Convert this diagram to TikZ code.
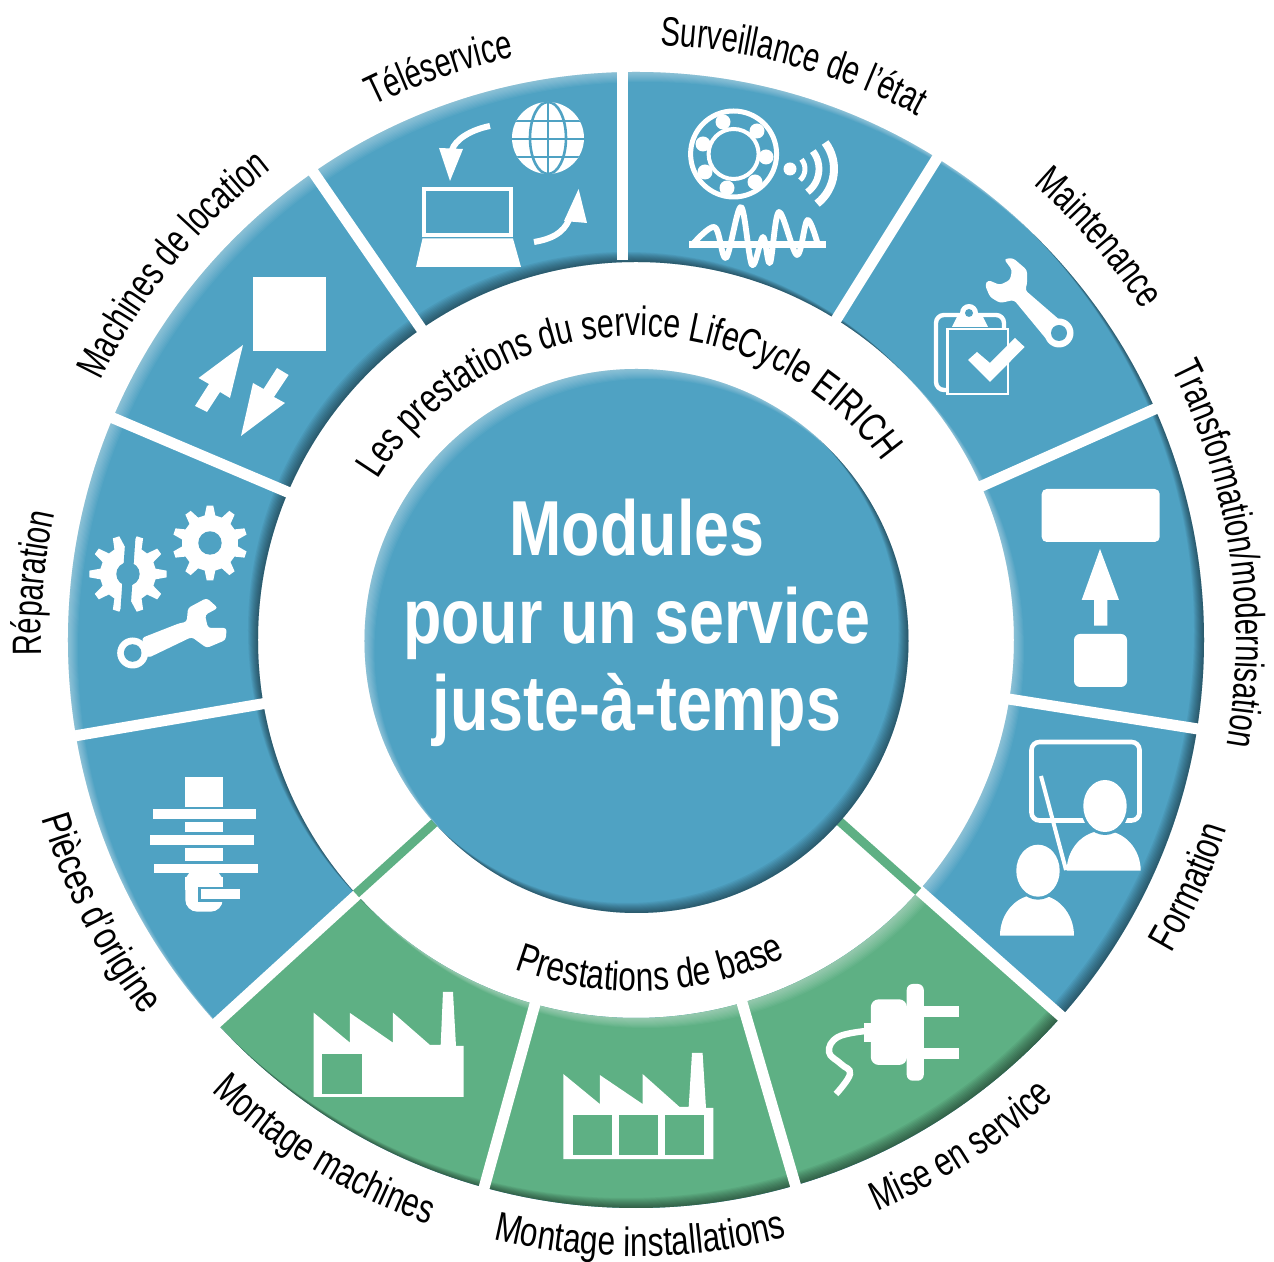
\documentclass[tikz,border=0pt]{standalone}
\usepackage{fontspec}
\usetikzlibrary{decorations.text}
\setmainfont{Liberation Sans}
\newfontfamily\lblfamA[FakeStretch=0.71]{Liberation Sans}
\newfontfamily\lblfamB[FakeStretch=0.74]{Liberation Sans}
\newfontfamily\lblfamC[FakeStretch=0.77]{Liberation Sans}
\newfontfamily\ctrfam[FakeStretch=0.805]{Liberation Sans Bold}
\newcommand\lblA{\lblfamA\fontsize{20.5}{24}\selectfont}
\newcommand\lblB{\lblfamB\fontsize{20.5}{24}\selectfont}
\newcommand\lblC{\lblfamC\fontsize{20.5}{24}\selectfont}
\definecolor{ringblue}{HTML}{4FA2C3}
\definecolor{ringgreen}{HTML}{5EB084}
\tikzset{
  arclabel/.style 2 args={decorate,decoration={text along path,text align=center,text={|#1|#2}}},
  ico/.style={fill=white,draw=none},
  icoline/.style={draw=white,fill=none},
}
% arc labels: font, centre angle, radius, text
\newcommand\cwlab[4]{\path[arclabel={#1}{#3x}] ({#2+70}:#3) arc ({#2+70}:{#2-70}:#3);}
\renewcommand\cwlab[4]{\path[arclabel={#1}{#4}] ({#2+70}:#3) arc ({#2+70}:{#2-70}:#3);}
\newcommand\ccwlab[4]{\path[arclabel={#1}{#4}] ({#2-70}:#3) arc ({#2-70}:{#2+70}:#3);}
\newcommand\gearshape[5]{% cx cy ro ri phase
  \begin{scope}[shift={(#1,#2)}]
  \fill[white] ({#5-11}:#4) \foreach \a in {0,36,...,324} { -- ({\a+#5-11}:#4) -- ({\a+#5-5}:#3) -- ({\a+#5+5}:#3) -- ({\a+#5+11}:#4) } -- cycle;
  \end{scope}}
\begin{document}
\begin{tikzpicture}[x=0.5pt,y=0.5pt]
\useasboundingbox (-636,640) rectangle (638,-622);
% ring
\fill[ringblue] (0:568) arc (0:360:568) -- cycle (0:378) arc (360:0:378) -- cycle;
\fill[ringgreen] (-41.5:568) arc (-41.5:-137.6:568) -- (-137.6:378) arc (-137.6:-41.5:378) -- cycle;
\begin{scope}
  \clip (0:568) arc (0:360:568) -- cycle (0:378) arc (360:0:378) -- cycle;
  \foreach \d in {1,...,10}{
    \fill[white,fill opacity=.045,even odd rule] (-700,-700) rectangle (700,700) (\d,-\d) circle (568) (\d,-\d) circle (378);
    \fill[black,fill opacity=.05,even odd rule] (-700,-700) rectangle (700,700) (-\d,\d) circle (568) (-\d,\d) circle (378);
  }
\end{scope}
% dividers
\foreach \t in {58,24,-9,-41.5,-73.7,-105.5,-137.6,-170.3,157,124.6}
  \draw[white,line width=5.5pt] (\t:370) -- (\t:580);
\draw[white,line width=5.5pt] (-14,380) -- (-14,580);
% green stripes
\draw[ringgreen,line width=4.5pt] (-41.7:378) -- (-41.7:268);
\draw[ringgreen,line width=4.5pt] (222.2:378) -- (222.2:268);
% centre disc
\begin{scope}[shift={(0.5,-1)}]
  \fill[ringblue] (0,0) circle (272);
  \clip (0,0) circle (272);
  \foreach \d in {1,...,10}{
    \fill[white,fill opacity=.045,even odd rule] (-300,-300) rectangle (300,300) (\d,-\d) circle (272);
    \fill[black,fill opacity=.05,even odd rule] (-300,-300) rectangle (300,300) (-\d,\d) circle (272);
  }
\end{scope}
\node[text=white,align=center,inner sep=0pt,font=\ctrfam\fontsize{39}{43.8}\selectfont] (title) at (1,17) {Modules\\pour un service\\juste-à-temps};
% labels
\cwlab{\lblA}{74.7}{595}{Surveillance de l’état}
\cwlab{\lblA}{109}{595}{Téléservice}
\cwlab{\lblA}{41}{604}{Maintenance}
\cwlab{\lblA}{8.4}{600}{Transformation/modernisation}
\cwlab{\lblA}{141}{595}{Machines de location}
\cwlab{\lblA}{174.6}{595}{Réparation}
\ccwlab{\lblB}{-24}{620}{Formation}
\ccwlab{\lblB}{-57.3}{620}{Mise en service}
\ccwlab{\lblC}{-89.6}{616}{Montage installations}
\ccwlab{\lblB}{238.6}{620}{Montage machines}
\ccwlab{\lblC}{207}{620}{Pièces d’origine}
\cwlab{\lblB}{92}{304}{Les prestations du service LifeCycle EIRICH}
\ccwlab{\lblC}{-87.5}{351}{Prestations de base}
% icons in image pixel coordinates
\begin{scope}[shift={(-636,640)},yscale=-1]
% Teleservice
\fill[ico] (548,138) circle (36);
\begin{scope}
  \clip (548,138) circle (36);
  \draw[ringblue,line width=1.3pt] (548,100) -- (548,176) (510,121) -- (586,121) (510,139) -- (586,139) (510,157) -- (586,157);
  \draw[ringblue,line width=1.3pt] (548,138) ellipse (18 and 36);
\end{scope}
\draw[icoline,line width=2.2pt] (424,189) rectangle (511,235);
\fill[ico] (422.5,238.5) -- (513,238.5) -- (521,267) -- (416,267) -- cycle;
\draw[icoline,line width=3pt] (490,126) .. controls (470,130) and (455,140) .. (452,150);
\fill[ico] (439,148) -- (463,149) -- (450,181) -- cycle;
\draw[icoline,line width=3pt] (534,242) .. controls (552,239) and (563,233) .. (569,220);
\fill[ico] (578.6,189) -- (564,221) -- (587,223) -- cycle;
% Machines de location
\fill[ico] (253,277) rectangle (326,351);
\fill[ico] (243,345) -- (198.6,378) -- (209,384) -- (195,406) -- (207,412) -- (220,392) -- (230,398) -- cycle;
\fill[ico] (241,436) -- (285,403) -- (274,397) -- (288.6,375) -- (277,368) -- (263.6,389) -- (253,383) -- cycle;
% Surveillance
\draw[icoline,line width=2.5pt] (733.6,154) circle (43);
\draw[icoline,line width=2pt] (733.6,154) circle (25);
\foreach \x/\y in {723/122,757/131,766/157,755/182,727/188,705/172,703/144}
  \fill[ico] (\x,\y) circle (7.5);
\fill[ico] (790,169) circle (6.5);
\draw[icoline,line width=2.5pt] (790,169) ++(-40:15) arc (-40:48:15);
\draw[icoline,line width=3.4pt] (790,169) ++(-38:29) arc (-38:53:29);
\draw[icoline,line width=4pt] (790,169) ++(-37:44) arc (-37:52:44);
\draw[icoline,line width=2.9pt,line join=round] plot[smooth,tension=.55] coordinates {(692,245) (714.6,227) (726,258) (741,207) (752,265) (763,237) (770,263) (779,212) (797,255) (807.5,220) (818,245)};
\fill[ico] (689,241.5) rectangle (826,248.5);
% Maintenance
\fill[ico,rounded corners=1.5pt] (1004,259) -- (1013,258) -- (1027,270) -- (1027,285) -- (1025,290) -- (1062,322) -- (1047,340) -- (1014,300) -- (1000,303) -- (990,297) -- (985,285) -- (988,280) -- (1000,285) -- (1010,280) -- (1012,270) -- cycle;
\fill[ico] (1059,333) circle (14.5);
\fill[ringblue] (1059,333) circle (8);
\draw[icoline,line width=2.2pt,rounded corners=4pt] (1004,328) -- (1004,315) -- (936,315) -- (936,390) -- (947,390);
\fill[ico] (969,313) circle (9);
\fill[ringblue] (969,313) circle (4);
\fill[ico] (957,317) -- (983,317) -- (988,327) -- (952,327) -- cycle;
\draw[icoline,line width=1.4pt,fill=ringblue] (947.5,329) rectangle (1008,394);
\fill[ico] (968,360) -- (990,382) -- (1024.6,347) -- (1015,338) -- (990,363) -- (977,352) -- cycle;
% Transformation
\fill[ico,rounded corners=2.5pt] (1041.7,489) rectangle (1159.7,542);
\fill[ico] (1100,549) -- (1119,600) -- (1107.3,600) -- (1107.3,625.7) -- (1094,625.7) -- (1094,600) -- (1081.7,600) -- cycle;
\fill[ico,rounded corners=3pt] (1074,634) rectangle (1127,687);
% Formation
\draw[icoline,line width=2.3pt,rounded corners=4pt] (1031.5,742) rectangle (1139.5,820.5);
\draw[icoline,line width=2pt] (1041,776) -- (1066,870);
\fill[ico] (1066.7,870.7) arc (180:360:37 and 40) -- cycle;
\fill[ringblue] (1105,806) ellipse (24.5 and 29);
\fill[ico] (1105,806) ellipse (21.7 and 26);
\fill[ico] (1000,935.7) arc (180:360:37 and 41) -- cycle;
\fill[ringblue] (1038,870.7) ellipse (24.5 and 29);
\fill[ico] (1038,870.7) ellipse (21.7 and 26);
% Reparation
\gearshape{210}{543}{37.5}{28}{18}
\fill[ringblue] (210,543) circle (11.7);
\gearshape{128}{574}{38.7}{28}{0}
\fill[ringblue] (128,574) circle (11.7);
\draw[ringblue,line width=5pt] (131,530) -- (125,617);
\fill[ico] (132.7,653) circle (15.5);
\fill[ico,rounded corners=1.5pt] (141.7,638) -- (180,623) -- (186.7,622) -- (188,608) -- (206.7,598) -- (218,608) -- (205,615) -- (208,628) -- (226.7,628) -- (225.7,640) -- (206.7,648) -- (191.7,637) -- (148,658) -- cycle;
\fill[ringblue] (132.7,653) circle (8.8);
% Pieces
\fill[ico] (185.3,777) rectangle (222.7,806.7);
\fill[ico] (152.7,809) rectangle (256,818.7);
\fill[ico] (185.3,822) rectangle (222.7,832.3);
\fill[ico] (150.3,835.3) rectangle (253.7,845);
\fill[ico] (185.3,848) rectangle (222.7,861);
\fill[ico] (154,864) rectangle (257.7,873.3);
\fill[ico,rounded corners=6pt] (185.3,870) -- (185.3,911.7) -- (222.7,911.7) -- (222.7,870) -- cycle;
\fill[ico] (185.3,876.7) -- (222.7,876.7) -- (222.7,890) -- (185.3,890) -- cycle;
\fill[ringblue] (198,887) rectangle (243,902);
\fill[ico] (201,889) rectangle (240.3,899.5);
% Green: factory 1
\fill[ico] (313.7,1097) -- (313.7,1012.7) -- (350,1042.7) -- (350,1013) -- (393,1042.7) -- (393,1012.7) -- (430,1045) -- (440.7,1045) -- (443,992) -- (453,992) -- (456,1046) -- (463.7,1046) -- (463.7,1097) -- cycle;
\fill[ringgreen] (322.3,1054) rectangle (362,1093.7);
% factory 2
\fill[ico] (563.3,1159) -- (563.3,1074) -- (599.8,1104) -- (599.8,1075) -- (642.6,1104) -- (642.6,1074) -- (679.6,1107) -- (688.7,1107) -- (692,1053) -- (702.6,1053) -- (706,1108) -- (713.3,1108) -- (713.3,1159) -- cycle;
\foreach \a/\b in {573/612,619/658,664.6/704}
  \fill[ringgreen] (\a,1115) rectangle (\b,1155);
% plug
\fill[ico,rounded corners=3pt] (906.7,984) rectangle (923.8,1080.7);
\fill[ico] (923,1006) rectangle (959,1017.3);
\fill[ico] (923,1048) rectangle (959,1059.3);
\fill[ico,rounded corners=4pt] (907,999.3) -- (870.8,999.3) -- (870.8,1065) -- (907,1065) -- cycle;
\fill[ico] (864,1023) rectangle (872,1041.7);
\draw[icoline,line width=3.2pt] plot[smooth,tension=.7] coordinates {(866,1031) (838,1037) (829,1052) (841,1064) (850,1074) (836,1094)};
\end{scope}
\end{tikzpicture}
\end{document}
